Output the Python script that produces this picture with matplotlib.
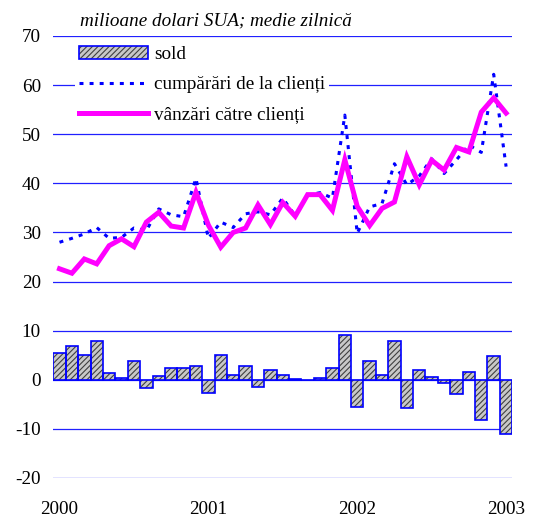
import numpy as np
import matplotlib
matplotlib.use('Agg')
from matplotlib import pyplot as plt
from matplotlib.patches import Patch
from matplotlib.lines import Line2D

plt.rcParams['font.family'] = ['Liberation Serif', 'DejaVu Serif']
plt.rcParams['hatch.linewidth'] = 0.8
plt.rcParams['axes.unicode_minus'] = False

# monthly data, Jan 2000 .. Jan 2003
year_labels = ['2000', '2001', '2002', '2003']
vanzari = [22.6, 21.7, 24.6, 23.6, 27.3, 28.7, 27.1, 32.1, 34.1, 31.3,
           30.9, 38.2, 31.5, 27.0, 30.0, 30.9, 35.6, 31.6, 36.1, 33.3,
           37.7, 37.7, 34.5, 44.8, 35.3, 31.4, 34.9, 36.2, 45.4, 39.7,
           44.7, 42.7, 47.3, 46.4, 54.5, 57.4, 54.3]
cumparari = [28.0, 28.8, 29.7, 31.0, 28.8, 29.0, 30.9, 30.4, 34.8, 33.6,
             33.2, 41.0, 28.8, 32.1, 31.0, 33.8, 34.2, 33.6, 37.0, 33.4,
             37.6, 38.1, 37.0, 53.9, 29.8, 35.2, 35.9, 44.0, 39.7, 41.5,
             45.0, 42.0, 44.8, 47.8, 46.3, 62.2, 43.4]
sold = [5.5, 6.9, 5.1, 7.8, 1.4, 0.3, 3.8, -1.7, 0.7, 2.4,
        2.4, 2.8, -2.6, 5.1, 1.0, 2.8, -1.5, 2.0, 1.0, 0.1,
        -0.1, 0.4, 2.5, 9.1, -5.5, 3.8, 1.0, 7.8, -5.8, 2.0,
        0.5, -0.7, -2.8, 1.5, -8.2, 4.8, -11.1]

x = np.arange(len(sold))
fs = 13.8

fig = plt.figure(figsize=(5.39, 5.17), dpi=100)
ax = fig.add_axes([53.3 / 539, 39 / 517, 459 / 539, 442 / 517])

# gridlines
for v in range(-20, 80, 10):
    ax.axhline(v, color='#2020ff', lw=0.9, zorder=0)

# bars: hatched fill, then blue outline
ax.bar(x, sold, width=1.0, color='#c8c8c8', edgecolor='#404040',
       hatch='//////', lw=0, zorder=2)
ax.bar(x, sold, width=1.0, fill=False, edgecolor='#0000ff', lw=1.2, zorder=3)

ax.plot(x, cumparari, color='#0000ff', lw=2.2, ls=(0, (1.3, 2.0)), zorder=4)
ax.plot(x, vanzari, color='#ff00ff', lw=3.6, zorder=5, solid_joinstyle='miter')

ax.set_xlim(-0.5, len(sold) - 0.5)
ax.set_ylim(-20, 70)
ax.set_yticks(range(-20, 80, 10))
ax.set_xticks([0, 12, 24, 36])
ax.set_xticklabels(year_labels)
ax.tick_params(axis='both', length=0, labelsize=fs)
ax.tick_params(axis='y', pad=9)
ax.tick_params(axis='x', pad=16.5)
for s in ax.spines.values():
    s.set_visible(False)

fig.text(80 / 539, 1 - 25 / 517, 'milioane dolari SUA; medie zilnică',
         fontsize=fs, style='italic', va='baseline')

h_sold = (Patch(facecolor='#c8c8c8', edgecolor='#404040', hatch='//////', lw=0),
          Patch(fill=False, edgecolor='#0000ff', lw=1.2))
h_c = Line2D([], [], color='#0000ff', lw=2.2, ls=(0, (1.3, 2.0)))
h_v = Line2D([], [], color='#ff00ff', lw=3.6)
leg = ax.legend([h_sold, h_c, h_v],
                ['sold', 'cumpărări de la clienți', 'vânzări către clienți'],
                loc='upper left', bbox_to_anchor=(75.3 / 539, 1 - 42 / 517),
                bbox_transform=fig.transFigure, borderaxespad=0, borderpad=0.2,
                handlelength=3.6, handletextpad=0.32, labelspacing=0.66,
                fontsize=fs, frameon=True, fancybox=False)
leg.get_frame().set_facecolor('white')
leg.get_frame().set_edgecolor('none')
leg.get_frame().set_alpha(1)

fig.savefig('out.png', dpi=100)
